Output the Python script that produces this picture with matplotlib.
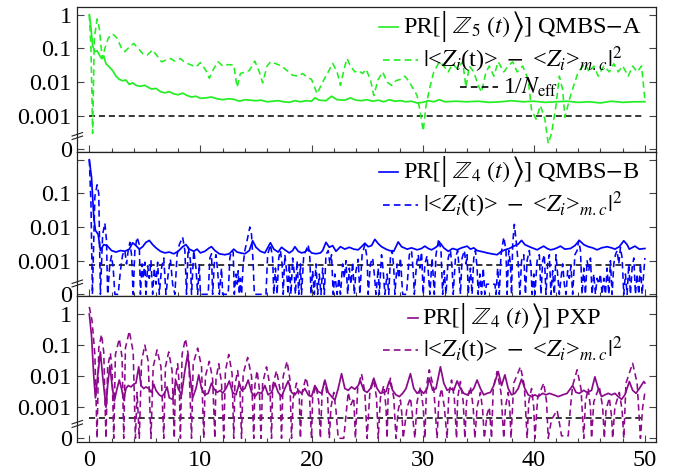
import numpy as np
import matplotlib
matplotlib.use('Agg')
import matplotlib.pyplot as plt
from matplotlib.lines import Line2D
from matplotlib.ticker import FixedLocator, NullLocator, MultipleLocator

plt.rcParams['font.family'] = ['Liberation Serif', 'DejaVu Serif']
plt.rcParams['mathtext.fontset'] = 'stix'

# ---- panel 1: QMBS-A (green) ----
t_a_pr = [0, 0.15, 0.3, 0.5, 0.7, 0.9, 1.1, 1.3, 1.5, 1.8, 2.1, 2.4, 2.7, 3.0, 3.3, 3.6, 3.9, 4.2, 4.6, 5.0,
          5.3, 5.6, 6.0, 6.4, 6.8, 7.2, 7.6, 8.0, 8.4, 8.8, 9.2, 9.6, 10, 10.5, 11, 11.5, 12, 12.5, 13, 13.5,
          14, 14.5, 15, 15.5, 16, 16.5, 17, 17.5, 18, 18.5, 19, 19.5, 20, 20.3, 20.7, 21.3, 21.8, 22.3, 23,
          23.5, 24, 24.5, 25, 25.5, 26, 26.5, 27, 27.5, 28, 28.5, 29, 29.5, 30, 30.5, 31, 31.5, 32, 33, 34,
          35, 36, 37, 38, 39, 40, 41, 42, 43, 44, 45, 46, 47, 48, 49, 50]
v_a_pr = [1.0, 0.4, 0.12, 0.08, 0.085, 0.065, 0.05, 0.06, 0.035, 0.028, 0.022, 0.015, 0.012, 0.011, 0.0115,
          0.0085, 0.0095, 0.008, 0.0075, 0.008, 0.007, 0.0062, 0.0065, 0.0052, 0.0048, 0.0052, 0.0045, 0.0042,
          0.0047, 0.004, 0.0036, 0.0038, 0.0033, 0.0034, 0.0036, 0.0032, 0.003, 0.0032, 0.0031, 0.0027, 0.003,
          0.0029, 0.0028, 0.0029, 0.0026, 0.0027, 0.0028, 0.0026, 0.0025, 0.0028, 0.0026, 0.0028, 0.0027,
          0.0034, 0.0029, 0.0028, 0.0038, 0.003, 0.0029, 0.0034, 0.0029, 0.0028, 0.003, 0.0027, 0.0029, 0.0026,
          0.003, 0.0027, 0.0028, 0.0026, 0.0027, 0.0024, 0.0025, 0.0028, 0.0026, 0.003, 0.0026, 0.0027, 0.0026,
          0.0027, 0.0025, 0.0026, 0.0028, 0.0026, 0.0027, 0.0025, 0.0026, 0.0027, 0.0025, 0.0026, 0.0024,
          0.0027, 0.0025, 0.0026, 0.0026]
t_a_z = [0, 0.15, 0.3, 0.45, 0.7, 0.9, 1.1, 1.2, 1.4, 1.7, 2.1, 2.5, 2.9, 3.2, 3.6, 4.0, 4.4, 4.8, 5.2, 5.7,
         6.1, 6.5, 6.9, 7.3, 7.7, 8.2, 8.6, 9.1, 9.6, 10.0, 10.5, 10.8, 11.2, 11.6, 12.0, 12.5, 13.0, 13.3,
         13.6, 14.0, 14.4, 14.9, 15.3, 15.6, 16.0, 16.3, 16.8, 17.3, 17.8, 18.3, 18.8, 19.2, 19.6, 20.0, 20.5,
         21.0, 21.5, 21.9, 22.3, 22.6, 23.0, 23.2, 23.5, 23.9, 24.2, 24.6, 24.9, 25.3, 25.6, 26.0, 26.4, 26.8,
         27.2, 27.6, 28.0, 28.4, 28.8, 29.5, 29.8, 30.05, 30.3, 30.6, 31.0, 31.5, 31.9, 32.3, 32.7, 33.1, 33.6,
         33.9, 34.2, 34.6, 35.0, 35.3, 35.7, 36.0, 36.4, 36.8, 37.3, 37.7, 38.1, 38.5, 39.0, 39.5, 39.8, 40.2,
         40.6, 41.0, 41.3, 41.6, 42.0, 42.3, 42.6, 42.8, 43.2, 43.6, 44.0, 44.6, 45.0, 45.4, 45.8, 46.3, 46.8,
         47.2, 47.6, 48.0, 48.5, 48.9, 49.3, 49.7, 50.0]
v_a_z = [1.0, 0.1, 0.0003, 0.2, 0.75, 0.4, 0.08, 0.05, 0.1, 0.2, 0.27, 0.2, 0.1, 0.08, 0.11, 0.14, 0.1, 0.07,
         0.063, 0.09, 0.06, 0.04, 0.045, 0.05, 0.042, 0.05, 0.038, 0.033, 0.028, 0.038, 0.022, 0.013, 0.025,
         0.04, 0.03, 0.033, 0.032, 0.007, 0.018, 0.02, 0.022, 0.042, 0.02, 0.0095, 0.03, 0.04, 0.035, 0.03,
         0.022, 0.016, 0.015, 0.018, 0.014, 0.012, 0.0045, 0.01, 0.02, 0.036, 0.02, 0.008, 0.03, 0.05, 0.03,
         0.02, 0.022, 0.018, 0.024, 0.012, 0.004, 0.012, 0.02, 0.01, 0.008, 0.011, 0.012, 0.015, 0.01, 0.004,
         0.0012, 0.00035, 0.002, 0.006, 0.02, 0.04, 0.03, 0.02, 0.035, 0.025, 0.04, 0.007, 0.03, 0.02, 0.008,
         0.005, 0.02, 0.03, 0.015, 0.04, 0.02, 0.03, 0.04, 0.02, 0.03, 0.012, 0.0015, 0.0008, 0.002, 0.0008,
         0.00015, 0.0003, 0.002, 0.015, 0.006, 0.0009, 0.003, 0.008, 0.02, 0.035, 0.02, 0.03, 0.015, 0.03,
         0.02, 0.035, 0.02, 0.03, 0.015, 0.03, 0.02, 0.03, 0.003]

# ---- panel 2: QMBS-B (blue) ----
t_b_pr = [0, 0.2, 0.4, 0.55, 0.8, 1.0, 1.3, 1.6, 2.0, 2.4, 2.8, 3.2, 3.6, 3.9, 4.2, 4.5, 4.8, 5.1, 5.4, 5.7,
          6.0, 6.4, 6.8, 7.2, 7.6, 8.0, 8.4, 8.7, 9.0, 9.4, 9.7, 10.0, 10.4, 10.8, 11.0, 11.3, 11.7, 12.2,
          12.6, 13.0, 13.3, 13.6, 14.0, 14.4, 14.7, 15.0, 15.4, 15.8, 16.3, 16.6, 17.0, 17.3, 17.6, 18.0,
          18.3, 18.5, 18.8, 19.1, 19.4, 19.7, 20.0, 20.4, 20.8, 21.0, 21.3, 21.6, 21.9, 22.2, 22.6, 23.0,
          23.4, 23.8, 24.2, 24.5, 24.8, 25.1, 25.4, 25.7, 26.0, 26.3, 26.7, 27.0, 27.4, 27.8, 28.1, 28.6,
          29.0, 29.5, 29.9, 30.2, 30.5, 30.8, 31.2, 31.6, 31.9, 32.3, 32.7, 33.1, 33.5, 34.0, 34.3, 34.6,
          34.9, 35.2, 35.5, 35.8, 36.2, 36.7, 37.0, 37.4, 37.8, 38.2, 38.6, 38.9, 39.2, 39.6, 40.0, 40.3,
          40.6, 40.9, 41.2, 41.5, 41.8, 42.1, 42.4, 42.8, 43.3, 43.7, 44.1, 44.5, 44.9, 45.3, 45.7, 46.1,
          46.6, 47.0, 47.3, 47.7, 48.1, 48.4, 48.6, 49.1, 49.5, 50.0]
v_b_pr = [1.0, 0.3, 0.02, 0.008, 0.006, 0.002, 0.003, 0.0028, 0.002, 0.0018, 0.002, 0.0019, 0.0022, 0.0034,
          0.0028, 0.0022, 0.0026, 0.0035, 0.004, 0.003, 0.0024, 0.0019, 0.0017, 0.0018, 0.0016, 0.0019, 0.0026,
          0.003, 0.0022, 0.0019, 0.0022, 0.0017, 0.0019, 0.0024, 0.0026, 0.002, 0.0016, 0.0015, 0.0016, 0.0022,
          0.0018, 0.0017, 0.0016, 0.002, 0.0039, 0.0025, 0.0019, 0.0017, 0.0034, 0.0022, 0.0018, 0.0025, 0.0021,
          0.0017, 0.002, 0.0026, 0.0019, 0.0017, 0.0018, 0.0022, 0.0017, 0.0016, 0.0017, 0.002, 0.0035, 0.0025,
          0.0028, 0.0019, 0.0026, 0.0022, 0.0025, 0.0022, 0.0021, 0.0026, 0.0033, 0.0026, 0.0028, 0.0043, 0.0032,
          0.0026, 0.0022, 0.002, 0.0019, 0.0036, 0.0026, 0.0022, 0.0024, 0.0021, 0.0023, 0.0027, 0.0023, 0.0021,
          0.0025, 0.0033, 0.0024, 0.0019, 0.0023, 0.0021, 0.0024, 0.0027, 0.0022, 0.0024, 0.002, 0.0019, 0.0018,
          0.0017, 0.0016, 0.0015, 0.0018, 0.0021, 0.0023, 0.0027, 0.0031, 0.004, 0.003, 0.0026, 0.0023, 0.0021,
          0.0024, 0.0027, 0.0023, 0.0021, 0.0022, 0.0024, 0.0027, 0.0022, 0.0023, 0.0028, 0.004, 0.003, 0.0026,
          0.0024, 0.0021, 0.0024, 0.0026, 0.0024, 0.0022, 0.0026, 0.0039, 0.003, 0.0022, 0.0027, 0.0022, 0.0023]
t_b_z = [0, 0.15, 0.28, 0.5, 0.7, 0.85, 1.0, 1.2, 1.4, 1.55, 1.65, 1.85, 2.0, 2.15, 2.3, 2.6, 2.8, 3.0, 3.2,
         3.35, 3.5, 3.65, 3.8, 3.95, 4.1, 4.3, 4.5, 4.6, 4.75, 4.85, 5.0, 5.1, 5.25, 5.4, 5.55, 5.7, 5.85, 6.0,
         6.15, 6.3, 6.5, 6.7, 6.9, 7.1, 7.3, 7.5, 7.7, 7.9, 8.1, 8.4, 8.6, 8.75, 8.9, 9.1, 9.2, 9.4, 9.6, 9.75,
         9.9, 10.0, 10.7, 10.85, 11.0, 11.1, 11.25, 11.4, 11.55, 11.7, 11.9, 12.0, 12.5, 12.65, 12.8, 12.95,
         13.05, 13.2, 13.3, 13.4, 13.5, 13.6, 13.7, 13.85, 14.0, 14.2, 14.45, 14.6, 14.75, 14.85, 15.9, 16.05,
         16.3, 16.5, 16.6, 16.75, 16.9, 17.05, 17.2, 17.35, 17.45, 17.6, 17.75, 17.9, 18.0, 18.15, 18.3, 18.45,
         18.55, 18.7, 18.85, 19.0, 19.1, 19.3, 19.5, 19.7, 19.85, 19.95, 20.1, 20.25, 20.4, 20.55, 20.7, 20.85,
         21.0, 21.15, 21.3, 21.5, 21.65, 21.8, 21.95, 22.1, 22.3, 22.45, 22.6, 22.8, 22.95, 23.1, 23.25, 23.4,
         23.55, 23.7, 23.85, 24.0, 24.2, 24.35, 24.55, 24.8, 25.0, 25.1, 25.3, 25.5, 25.65, 25.8, 26.0, 26.1,
         26.3, 26.45, 26.6, 26.8, 26.95, 27.1, 27.25, 27.4, 27.5, 27.7, 27.85, 28.0, 28.2, 28.55, 28.8, 29.0,
         29.15, 29.25, 29.45, 29.6, 29.75, 29.9, 30.05, 30.2, 30.4, 30.55, 30.65, 30.85, 31.05, 31.2, 31.45,
         31.65, 31.8, 31.95, 32.1, 32.3, 32.5, 32.65, 32.75, 32.95, 33.15, 33.3, 33.4, 33.55, 33.75, 33.9,
         34.0, 34.1, 34.3, 34.45, 34.6, 34.75, 34.9, 35.0, 35.15, 35.3, 35.45, 35.6, 35.75, 36.5, 36.6, 36.75,
         36.9, 37.05, 37.3, 37.5, 37.6, 37.75, 37.9, 38.0, 38.1, 38.25, 38.45, 38.6, 38.75, 38.9, 39.1, 39.25,
         39.4, 39.6, 39.75, 39.85, 40.0, 40.1, 40.3, 40.5, 40.65, 40.8, 40.95, 41.1, 41.25, 41.4, 41.55, 41.7,
         41.85, 42.0, 42.15, 42.3, 42.45, 42.6, 42.75, 42.9, 43.05, 43.2, 43.35, 43.5, 43.7, 43.9, 44.05, 44.2,
         44.35, 44.5, 44.65, 44.8, 44.95, 45.1, 45.25, 45.4, 45.55, 45.7, 45.85, 46.0, 46.15, 46.3, 46.45,
         46.6, 46.75, 46.9, 47.05, 47.2, 47.35, 47.5, 47.65, 47.8, 47.95, 48.1, 48.25, 48.4, 48.55, 48.7,
         48.85, 49.0, 49.15, 49.3, 49.45, 49.6, 49.75, 50.0]
v_b_z = [1.0, 0.05, 0, 0.08, 0.18, 0.1, 0, 0.006, 0.013, 0.004, 0, 0.0008, 0.0014, 0.0006, 0, 0, 0.0005,
         0.0015, 0.002, 0.0008, 0.002, 0.0035, 0.0015, 0, 0.002, 0.005, 0.003, 0, 0.0008, 0.0003, 0.0009, 0,
         0.0007, 0.0003, 0.001, 0, 0.0006, 0.0002, 0.0009, 0, 0.0006, 0.0012, 0, 0.0004, 0.0011, 0.0002, 0,
         0.0015, 0.003, 0.005, 0.002, 0, 0.0025, 0.001, 0, 0.002, 0.0006, 0, 0.0008, 0, 0, 0.0012, 0.0016, 0,
         0.0008, 0.0015, 0.0005, 0, 0.0006, 0, 0, 0.0012, 0.002, 0.0018, 0, 0.0004, 0.0002, 0.0005, 0, 0.0003,
         0, 0.0008, 0.002, 0.004, 0.01, 0.006, 0.0008, 0, 0, 0.0015, 0.003, 0.0012, 0, 0.0006, 0, 0.0012,
         0.002, 0.0008, 0, 0.0015, 0.0005, 0, 0.0008, 0, 0.0012, 0.0004, 0, 0.001, 0, 0.0008, 0, 0.0015, 0.002,
         0.003, 0.0012, 0, 0.0005, 0, 0.0008, 0, 0.0004, 0, 0.0006, 0, 0.0015, 0.002, 0.0008, 0.0015, 0,
         0.0004, 0, 0.0003, 0, 0.0008, 0.0003, 0.001, 0, 0.0006, 0.0002, 0.0009, 0, 0.0005, 0.0011, 0, 0.0015,
         0.003, 0.0012, 0, 0.0008, 0.0012, 0.0004, 0, 0.0006, 0, 0.0015, 0.0005, 0, 0.0004, 0, 0.0012, 0.002,
         0.0006, 0, 0.0008, 0.0003, 0.0012, 0, 0, 0.0015, 0.002, 0.0005, 0, 0.0008, 0.0015, 0.0006, 0.0018, 0,
         0.0008, 0.0014, 0.0003, 0, 0.0012, 0, 0.0015, 0.0045, 0.002, 0, 0.0005, 0, 0.0012, 0.002, 0.0006, 0,
         0.0012, 0.002, 0.0005, 0, 0.0012, 0.002, 0.0008, 0.0015, 0, 0.0006, 0, 0.0012, 0.002, 0.0006, 0,
         0.0004, 0, 0.0006, 0, 0.0002, 0.0002, 0, 0.0006, 0, 0.0015, 0.005, 0.002, 0, 0.002, 0.0008, 0, 0.003,
         0.012, 0.003, 0.0008, 0, 0.001, 0.0015, 0, 0.001, 0.002, 0.0006, 0, 0.0004, 0, 0.001, 0.0015, 0,
         0.001, 0.0015, 0, 0.0008, 0.0015, 0, 0.0005, 0, 0.0015, 0.0004, 0, 0.0003, 0.0008, 0.0002, 0, 0.0005,
         0.0003, 0.0007, 0, 0.0015, 0.002, 0.004, 0.002, 0, 0.0006, 0, 0.001, 0.0005, 0.0012, 0, 0.0004, 0,
         0.0003, 0.0002, 0.0004, 0, 0.0003, 0, 0.0006, 0, 0.001, 0, 0.0008, 0.0015, 0.002, 0.0008, 0.0025,
         0.0012, 0, 0.0004, 0, 0.0008, 0, 0.0006, 0.0012, 0, 0.0004, 0, 0.0008, 0, 0.0012]

# ---- panel 3: PXP (purple) ----
t_p_pr = [0, 0.2, 0.4, 0.55, 0.75, 1.0, 1.2, 1.5, 1.65, 1.85, 2.05, 2.25, 2.5, 2.7, 2.9, 3.1, 3.3, 3.5, 3.75,
          4.0, 4.2, 4.45, 4.65, 4.9, 5.1, 5.35, 5.6, 5.8, 6.0, 6.3, 6.55, 6.8, 7.0, 7.2, 7.5, 7.8, 8.0, 8.3,
          8.6, 8.85, 9.1, 9.3, 9.6, 9.85, 10.1, 10.4, 10.7, 11.0, 11.2, 11.5, 11.8, 12.0, 12.3, 12.6, 12.9,
          13.2, 13.5, 13.7, 14.0, 14.3, 14.6, 14.9, 15.2, 15.5, 15.8, 16.1, 16.4, 16.7, 17.0, 17.3, 17.6, 17.9,
          18.2, 18.5, 18.8, 19.1, 19.4, 19.7, 20.0, 20.3, 20.6, 20.9, 21.2, 21.5, 21.8, 22.1, 22.4, 22.7, 23.0,
          23.3, 23.6, 23.9, 24.2, 24.4, 24.7, 25.0, 25.3, 25.6, 25.9, 26.2, 26.5, 26.7, 27.0, 27.3, 27.6, 27.9,
          28.2, 28.5, 28.9, 29.2, 29.5, 29.8, 30.1, 30.4, 30.6, 30.9, 31.2, 31.6, 31.9, 32.2, 32.5, 32.8, 33.1,
          33.4, 33.7, 34.0, 34.3, 34.6, 34.9, 35.2, 35.5, 35.8, 36.1, 36.4, 36.8, 37.1, 37.4, 37.7, 38.0, 38.3,
          38.6, 38.9, 39.2, 39.5, 39.8, 40.1, 40.4, 40.8, 41.1, 41.4, 41.8, 42.2, 42.6, 43.0, 43.5, 43.8, 44.1,
          44.5, 44.8, 45.2, 45.5, 45.8, 46.1, 46.4, 46.7, 47.0, 47.3, 47.6, 47.9, 48.2, 48.6, 48.9, 49.2, 49.5,
          49.9, 50.0]
v_p_pr = [1.0, 0.2, 0.01, 0.002, 0.01, 0.06, 0.01, 0.001, 0.005, 0.022, 0.005, 0.0016, 0.004, 0.0075, 0.004,
          0.0017, 0.004, 0.005, 0.0045, 0.0055, 0.006, 0.02, 0.005, 0.004, 0.0045, 0.004, 0.003, 0.0055, 0.0035,
          0.0025, 0.0022, 0.003, 0.0045, 0.002, 0.0018, 0.007, 0.004, 0.0025, 0.015, 0.05, 0.008, 0.002, 0.004,
          0.011, 0.004, 0.0025, 0.0028, 0.006, 0.004, 0.003, 0.0035, 0.0028, 0.004, 0.007, 0.003, 0.0025, 0.006,
          0.0035, 0.004, 0.0075, 0.003, 0.0022, 0.003, 0.0028, 0.005, 0.0025, 0.003, 0.006, 0.003, 0.0022, 0.004,
          0.007, 0.003, 0.0025, 0.0035, 0.0028, 0.004, 0.0025, 0.0022, 0.005, 0.0032, 0.0028, 0.0075, 0.003,
          0.0022, 0.0017, 0.004, 0.012, 0.004, 0.0035, 0.0045, 0.0038, 0.005, 0.007, 0.0035, 0.003, 0.004,
          0.0086, 0.004, 0.0028, 0.003, 0.0032, 0.007, 0.0035, 0.0025, 0.0022, 0.0028, 0.004, 0.012, 0.004,
          0.0028, 0.0035, 0.0028, 0.004, 0.0086, 0.0035, 0.004, 0.02, 0.006, 0.0035, 0.004, 0.0035, 0.007, 0.004,
          0.0028, 0.0025, 0.003, 0.004, 0.0075, 0.004, 0.0025, 0.0028, 0.003, 0.005, 0.014, 0.005, 0.011, 0.004,
          0.0025, 0.0028, 0.004, 0.008, 0.004, 0.0025, 0.0022, 0.0025, 0.0022, 0.0028, 0.0025, 0.0028, 0.0025,
          0.0022, 0.0025, 0.0028, 0.005, 0.003, 0.0028, 0.0035, 0.003, 0.0035, 0.0095, 0.004, 0.0022, 0.0025,
          0.0028, 0.0025, 0.0028, 0.0022, 0.0018, 0.0025, 0.0067, 0.0035, 0.0028, 0.004, 0.0067, 0.006]
t_p_z = [0, 0.25, 0.5, 0.7, 0.85, 1.1, 1.3, 1.5, 1.65, 1.9, 2.05, 2.2, 2.35, 2.7, 2.95, 3.1, 3.25, 3.6, 3.95,
         4.15, 4.3, 4.5, 4.7, 5.0, 5.3, 5.55, 5.75, 6.1, 6.45, 6.7, 6.85, 7.15, 7.45, 7.65, 7.75, 7.95, 8.1,
         8.2, 8.35, 8.65, 8.95, 9.2, 9.35, 9.75, 10.1, 10.3, 10.45, 10.8, 11.1, 11.3, 11.4, 11.65, 11.9, 12.1,
         12.25, 12.55, 12.85, 13.0, 13.1, 13.35, 13.55, 13.7, 13.85, 14.25, 14.6, 14.8, 14.9, 15.1, 15.3,
         15.45, 15.6, 15.95, 16.25, 16.4, 16.5, 16.85, 17.15, 17.3, 17.45, 17.8, 18.05, 18.2, 18.35, 18.65,
         18.9, 19.0, 19.15, 19.5, 19.8, 20.0, 20.1, 20.4, 20.65, 20.8, 20.95, 21.2, 21.45, 21.6, 21.75, 22.0,
         22.2, 22.4, 22.9, 23.3, 23.55, 23.8, 23.95, 24.15, 24.5, 24.8, 25.0, 25.25, 25.6, 25.85, 26.0, 26.2,
         26.5, 26.7, 26.8, 26.9, 27.1, 27.4, 27.6, 27.8, 28.0, 28.15, 28.25, 28.6, 28.9, 29.1, 29.3, 29.5,
         29.8, 30.05, 30.2, 30.35, 30.6, 31.0, 31.3, 31.45, 31.7, 31.95, 32.2, 32.35, 32.6, 32.85, 33.05,
         33.15, 33.4, 33.65, 33.8, 33.95, 34.3, 34.55, 34.7, 34.9, 35.2, 35.4, 35.55, 35.8, 36.0, 36.2, 36.35,
         36.7, 37.05, 37.3, 37.45, 37.7, 37.85, 37.95, 38.2, 38.8, 39.15, 39.4, 39.55, 39.8, 40.0, 40.1, 40.35,
         40.9, 41.15, 41.3, 41.6, 42.1, 42.4, 42.5, 43.1, 43.3, 43.5, 43.9, 44.25, 44.5, 44.65, 44.9, 45.1,
         45.2, 45.4, 45.9, 46.2, 46.35, 46.5, 46.8, 47.0, 47.1, 47.3, 47.7, 47.95, 48.1, 48.3, 48.9, 49.3,
         49.6, 49.8, 50.0]
v_p_z = [1.7, 0.6, 0.05, 0, 0.08, 0.22, 0.06, 0, 0.02, 0.055, 0.015, 0, 0.05, 0.16, 0.04, 0, 0.08, 0.28,
         0.06, 0, 0.003, 0, 0.03, 0.1, 0.03, 0, 0.02, 0.07, 0.02, 0, 0.02, 0.06, 0.015, 0, 0.008, 0.025, 0.005,
         0, 0.05, 0.16, 0.04, 0, 0.025, 0.08, 0.02, 0, 0.01, 0.03, 0.008, 0, 0.008, 0.025, 0.006, 0, 0.015,
         0.05, 0.012, 0, 0.005, 0.015, 0.004, 0, 0.012, 0.04, 0.01, 0, 0.005, 0.015, 0.004, 0, 0.006, 0.02,
         0.005, 0, 0.005, 0.015, 0.004, 0, 0.01, 0.03, 0.008, 0, 0.002, 0.006, 0.002, 0, 0.003, 0.009, 0.003,
         0, 0.002, 0.005, 0.0015, 0, 0.003, 0.007, 0.002, 0, 0.001, 0.003, 0.0008, 0, 0, 0.003, 0.0012, 0.002,
         0, 0.004, 0.012, 0.003, 0, 0.003, 0.0075, 0.002, 0, 0.002, 0.005, 0.001, 0, 0.003, 0.0086, 0.002, 0,
         0.0008, 0.0017, 0.0005, 0, 0.001, 0.002, 0.0005, 0, 0.0015, 0.0046, 0.001, 0, 0.005, 0.016, 0.004, 0,
         0.0015, 0.004, 0.001, 0, 0.0025, 0.0075, 0.002, 0, 0.002, 0.0067, 0.0015, 0, 0.0015, 0.0046, 0.001,
         0, 0.001, 0.003, 0.0008, 0, 0.0006, 0.001, 0, 0.004, 0.014, 0.003, 0, 0.001, 0.003, 0.0008, 0, 0.006,
         0.02, 0.005, 0, 0.0015, 0.004, 0.001, 0, 0.002, 0.006, 0.0015, 0, 0.0004, 0.0008, 0.0002, 0.00012,
         0.00012, 0.001, 0.005, 0.016, 0.004, 0, 0.0015, 0.004, 0.001, 0, 0.0015, 0.0046, 0.001, 0, 0.0008,
         0.002, 0.0005, 0, 0.001, 0.003, 0.0008, 0, 0.006, 0.026, 0.006, 0, 0.001, 0.003]

# 1/N_eff level of each panel
n_eff_inv = [1e-3, 7.2e-4, 4.6e-4]

# legend texts, split so that the ket brackets can be drawn taller
ket_index = ['5', '4', '4']
model_names = ['QMBS$-$A', 'QMBS$-$B', 'PXP']
label_z = r'$|$<$Z_i$(t)>$\ -\ $<$Z_i$>$_{m.c}|^2$'
label_n = r'1/$N_{\mathrm{eff}}$'

colors = ['#22ee22', '#0000ff', '#8b0a8b']
ZERO = 1e-4   # position where the value 0 is drawn (broken axis)
DASH = (0, (4, 2.5))

W, H = 676, 474
fig = plt.figure(figsize=(W / 100, H / 100), dpi=100)
renderer = fig.canvas.get_renderer()

# axes boxes in pixels: (top, bottom)
boxes = [(7.3, 152), (152, 296), (296, 442)]
ylims = [(8.4e-5, 1.66), (8.9e-5, 1.7), (7.6e-5, 3.8)]
breaks = [2.5e-4, 2.1e-4, 2.9e-4]
left_px, right_px = 77.3, 656

series = [(t_a_pr, v_a_pr, t_a_z, v_a_z),
          (t_b_pr, v_b_pr, t_b_z, v_b_z),
          (t_p_pr, v_p_pr, t_p_z, v_p_z)]

for i, (top, bot) in enumerate(boxes):
    ax = fig.add_axes([left_px / W, 1 - bot / H, (right_px - left_px) / W, (bot - top) / H])
    tpr, vpr, tz, vz = series[i]
    c = colors[i]
    ax.plot([0, 50], [n_eff_inv[i]] * 2, color='black', lw=1.1, ls=DASH)
    ax.plot(tz, np.maximum(vz, ZERO), color=c, lw=1.15, ls=DASH)
    ax.plot(tpr, np.maximum(vpr, ZERO), color=c, lw=1.25)
    ax.set_yscale('log')
    ax.set_ylim(*ylims[i])
    ax.set_xlim(-1.08, 51)

    ax.yaxis.set_major_locator(FixedLocator([1e-4, 1e-3, 1e-2, 1e-1, 1]))
    ax.yaxis.set_minor_locator(NullLocator())
    ylab = ['0', '0.001', '0.01', '0.1', '1']
    if i == 1:
        ylab[-1] = ''
    ax.set_yticklabels(ylab)
    ax.xaxis.set_major_locator(MultipleLocator(10))
    ax.xaxis.set_minor_locator(MultipleLocator(2))
    ax.tick_params(axis='both', which='both', direction='in', top=False, right=True,
                   labelsize=17.5, pad=4, width=0.8, color='#444444')
    ax.tick_params(axis='both', which='major', length=5)
    ax.tick_params(axis='x', which='minor', length=3)
    ax.tick_params(axis='x', pad=5.5)
    if i < 2:
        ax.tick_params(axis='x', labelbottom=False)
    for s in ax.spines.values():
        s.set_linewidth(0.9)
        s.set_color('#222222')

    # axis break mark on left spine
    lo, hi = np.log10(ylims[i][0]), np.log10(ylims[i][1])
    ya = (np.log10(breaks[i]) - lo) / (hi - lo)
    for d in (-0.012, 0.012):
        ax.plot([-0.009, 0.009], [ya + d - 0.012, ya + d + 0.012], transform=ax.transAxes,
                color='#222222', lw=0.8, clip_on=False)


# hand drawn legends (figure pixel coordinates)
def put_pieces(x, y, pieces):
    for s, size in pieces:
        t = fig.text(x / W, 1 - y / H, s, ha='left', va='center', fontsize=size)
        x += t.get_window_extent(renderer).width


def legend_row(x0, x1, xt, y, color, ls, pieces):
    fig.add_artist(Line2D([x0 / W, x1 / W], [1 - y / H] * 2, color=color, lw=1.2, ls=ls,
                          transform=fig.transFigure))
    put_pieces(xt, y, pieces)


def pr_pieces(i):
    return [('PR[', 17.5), ('|', 24), (r'$\ \mathbb{Z}_' + ket_index[i] + r'\ (t)$', 17.5),
            (r'$\rangle$', 24), ('] ' + model_names[i], 17.5)]


legend_row(379, 398, 403, 26.7, colors[0], '-', pr_pieces(0))
legend_row(383, 418, 423, 60, colors[0], DASH, [(label_z, 17.5)])
legend_row(460, 498, 503, 87, 'black', DASH, [(label_n, 17)])
legend_row(379, 398, 403, 171.7, colors[1], '-', pr_pieces(1))
legend_row(383, 418, 423, 205, colors[1], DASH, [(label_z, 17.5)])
legend_row(408, 418, 422, 318, colors[2], '-', pr_pieces(2))
legend_row(383, 418, 423, 350, colors[2], DASH, [(label_z, 17.5)])

fig.savefig('out.png', dpi=100)
